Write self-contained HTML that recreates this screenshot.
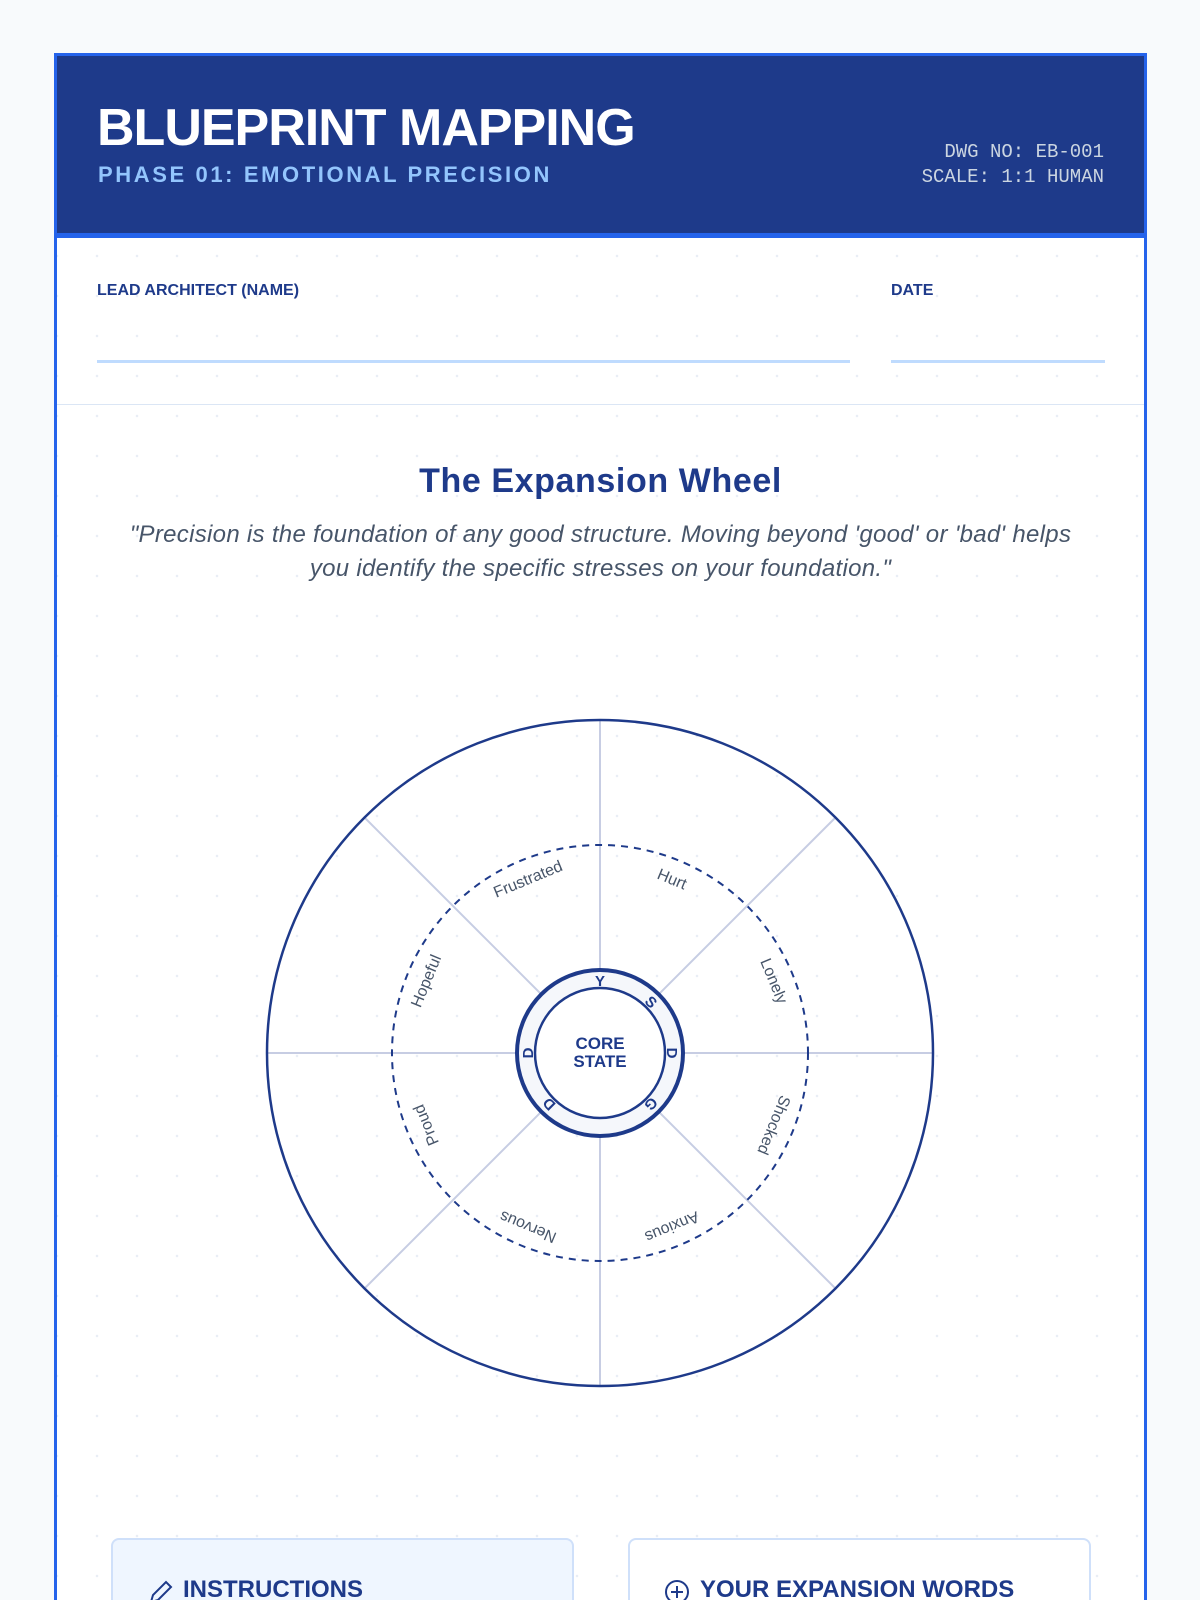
<!DOCTYPE html>
<html><head><meta charset="utf-8"><style>
*{margin:0;padding:0;box-sizing:border-box}
html,body{width:1200px;height:1600px;overflow:hidden}
body{background:#f8fafc;font-family:"Liberation Sans",sans-serif;position:relative}
.card{position:absolute;left:54px;top:53px;width:1093px;height:1547px;border:3px solid #2563eb;border-bottom:none;background:#fff;overflow:hidden;
background-image:radial-gradient(circle,#e8edf5 1px,transparent 1.5px);background-size:40px 40px;background-position:20px 20px}
.hdr{position:absolute;left:0;top:0;right:0;height:182px;background:#1e3a8a;border-bottom:5px solid #2563eb}
.t1{position:absolute;left:40px;top:46px;color:#fff;font-weight:900;font-size:52px;letter-spacing:-1px;line-height:1}
.t2{position:absolute;left:41px;top:106px;color:#93c5fd;font-weight:700;font-size:22px;letter-spacing:2.6px}
.dwg{position:absolute;right:40px;top:84px;color:#cbd5e1;font-family:"Liberation Mono",monospace;font-size:19px;line-height:25px;text-align:right}
.lbl{position:absolute;top:226px;color:#1e3a8a;font-weight:700;font-size:16px}
.ln{position:absolute;top:304px;height:3px;background:#bfdbfe}
.sep{position:absolute;left:0;right:0;top:348px;height:1px;background:#dbe6f5}
h2{position:absolute;left:0;right:0;top:406px;text-align:center;color:#1e3a8a;font-size:34px;font-weight:700;letter-spacing:0.6px}
.q{position:absolute;left:10px;right:10px;top:462px;text-align:center;color:#475569;font-style:italic;font-size:24px;line-height:34px;letter-spacing:0.3px}
.box{position:absolute;top:1482px;width:463px;height:100px;border:2px solid #cfe0fa;border-radius:8px}
.box span{position:absolute;left:70px;top:36px;color:#1e3a8a;font-weight:800;font-size:24px}
</style></head><body>
<div class="card">
<div class="hdr">
<div class="t1">BLUEPRINT MAPPING</div>
<div class="t2">PHASE 01: EMOTIONAL PRECISION</div>
<div class="dwg">DWG NO: EB-001<br>SCALE: 1:1 HUMAN</div>
</div>
<div class="lbl" style="left:40px">LEAD ARCHITECT (NAME)</div>
<div class="lbl" style="left:834px">DATE</div>
<div class="ln" style="left:40px;width:753px"></div>
<div class="ln" style="left:834px;width:214px"></div>
<div class="sep"></div>
<h2>The Expansion Wheel</h2>
<div class="q">"Precision is the foundation of any good structure. Moving beyond 'good' or 'bad' helps<br>you identify the specific stresses on your foundation."</div>
<div class="box" style="left:54px;background:#eff6ff"><svg style="position:absolute;left:34px;top:38px" width="28" height="28" viewBox="0 0 28 28"><path d="M4 24 L6 17 L19 4 L24 9 L11 22 Z M4 24 L11 22" fill="none" stroke="#1e3a8a" stroke-width="2"/><line x1="4" y1="26" x2="12" y2="26" stroke="#1e3a8a" stroke-width="2"/></svg><span>INSTRUCTIONS</span></div>
<div class="box" style="left:571px;background:#fff"><svg style="position:absolute;left:34px;top:38px" width="28" height="28" viewBox="0 0 28 28"><circle cx="13" cy="14" r="11" fill="none" stroke="#1e3a8a" stroke-width="2"/><path d="M13 8v12M7 14h12" stroke="#1e3a8a" stroke-width="2"/></svg><span>YOUR EXPANSION WORDS</span></div>
</div>
<svg style="position:absolute;left:0;top:0" width="1200" height="1600">
<g transform="translate(600,1053)" font-family="Liberation Sans,sans-serif">
<g stroke="#c7cde3" stroke-width="2">
<line x1="0" y1="-333" x2="0" y2="333"/><line x1="-333" y1="0" x2="333" y2="0"/>
<line x1="-235" y1="-235" x2="235" y2="235"/><line x1="235" y1="-235" x2="-235" y2="235"/>
</g>
<circle r="333" fill="none" stroke="#1e3a8a" stroke-width="2.5"/>
<circle r="208" fill="none" stroke="#1e3a8a" stroke-width="2" stroke-dasharray="7 6"/>
<g fill="#475569" font-size="16" text-anchor="middle">
<text transform="rotate(22.5) translate(0,-183)">Hurt</text>
<text transform="rotate(67.5) translate(0,-183)">Lonely</text>
<text transform="rotate(112.5) translate(0,-183)">Shocked</text>
<text transform="rotate(157.5) translate(0,-183)">Anxious</text>
<text transform="rotate(202.5) translate(0,-183)">Nervous</text>
<text transform="rotate(247.5) translate(0,-183)">Proud</text>
<text transform="rotate(292.5) translate(0,-183)">Hopeful</text>
<text transform="rotate(337.5) translate(0,-183)">Frustrated</text>
</g>
<circle r="83" fill="#f5f7fb" stroke="#1e3a8a" stroke-width="4"/>
<circle r="65" fill="#fff" stroke="#1e3a8a" stroke-width="2.5"/>
<g fill="#1e3a8a" font-size="15" font-weight="700" text-anchor="middle">
<text transform="rotate(0) translate(0,-67)">Y</text>
<text transform="rotate(45) translate(0,-67)">S</text>
<text transform="rotate(90) translate(0,-67)">D</text>
<text transform="rotate(135) translate(0,-67)">G</text>
<text transform="rotate(225) translate(0,-67)">D</text>
<text transform="rotate(270) translate(0,-67)">D</text>
</g>
<text y="-4" text-anchor="middle" fill="#1e3a8a" font-size="17" font-weight="700">CORE</text>
<text y="14" text-anchor="middle" fill="#1e3a8a" font-size="17" font-weight="700">STATE</text>
</g>
</svg>
</body></html>
